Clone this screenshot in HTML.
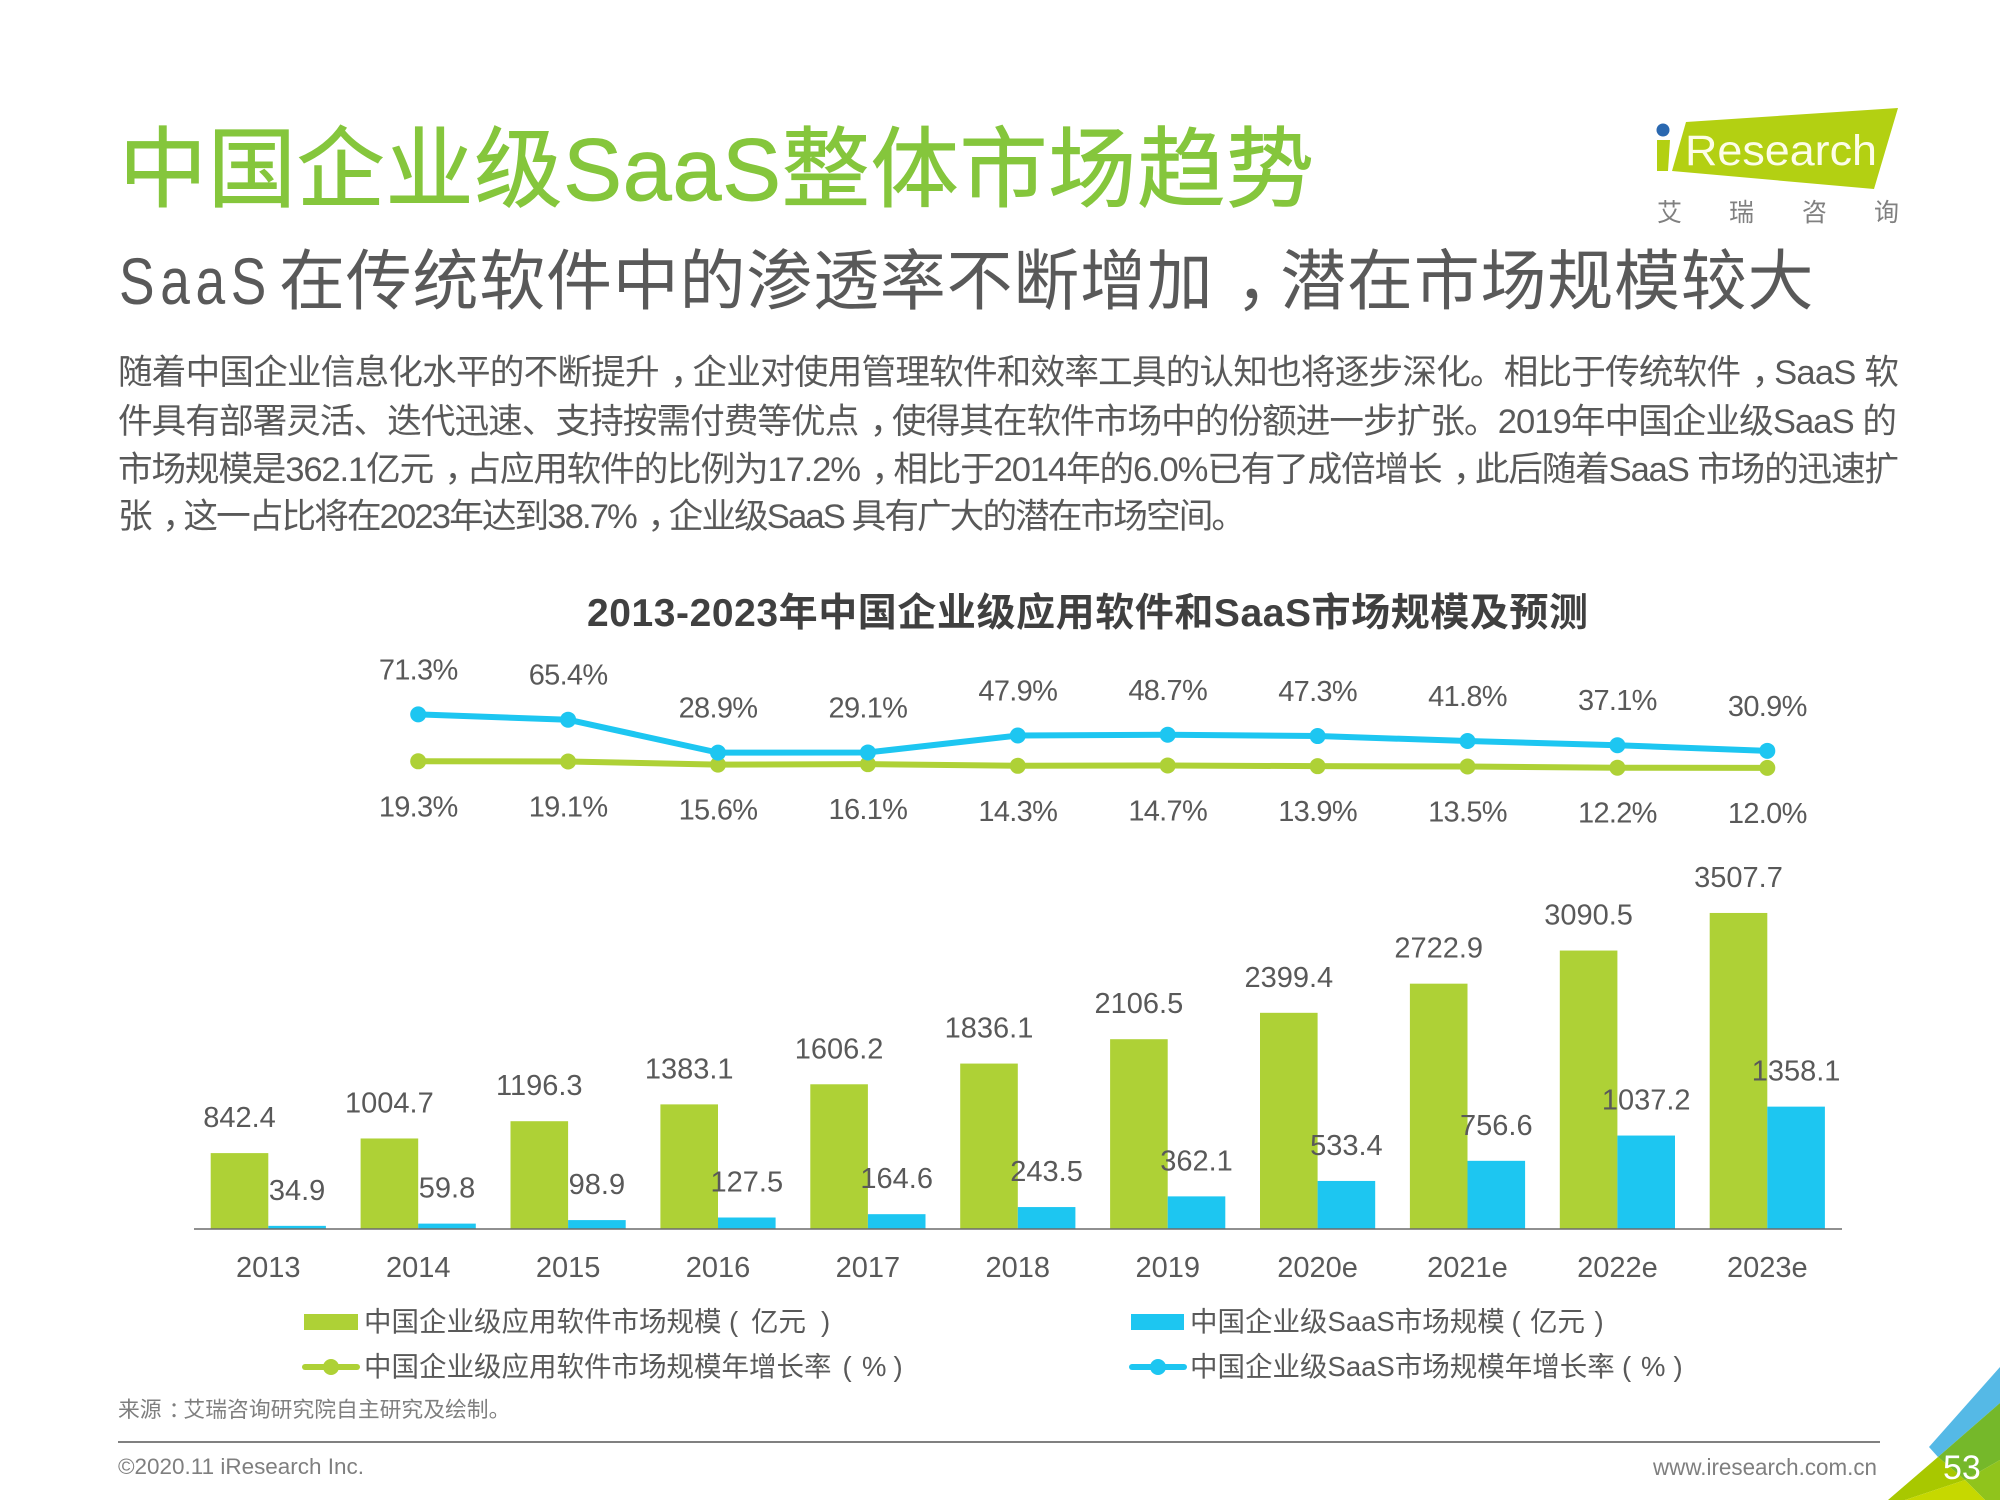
<!DOCTYPE html>
<html lang="zh-CN">
<head>
<meta charset="utf-8">
<title>中国企业级SaaS整体市场趋势</title>
<style>
html,body{margin:0;padding:0;background:#fff;}
body{width:2000px;height:1500px;overflow:hidden;}
svg{display:block;}
text{font-family:"Liberation Sans","Noto Sans CJK SC",sans-serif;white-space:pre;}
.body-line{font-size:34.6px;fill:#595959;}
.val{font-size:29px;fill:#595959;text-anchor:middle;}
.rate{letter-spacing:-0.7px;}
.legend{font-size:27.5px;fill:#595959;}
</style>
</head>
<body>
<svg id="page" xmlns="http://www.w3.org/2000/svg" width="2000" height="1500" viewBox="0 0 2000 1500">
  <rect x="0" y="0" width="2000" height="1500" fill="#ffffff"/>

  <text x="119" y="200" font-size="88" fill="#85c63c" stroke="#85c63c" stroke-width="0.9" textLength="1195" lengthAdjust="spacing">中国企业级SaaS整体市场趋势</text>
  <g>
    <text x="119" y="304" font-size="66" fill="#595959" letter-spacing="7" textLength="153" lengthAdjust="spacingAndGlyphs">SaaS</text>
    <text x="279" y="304" font-size="66" letter-spacing="0.75" fill="#595959">在传统软件中的渗透率不断增加<tspan dx="22">，</tspan><tspan dx="-22">潜</tspan>在市场规模较大</text>
  </g>

  <g>
    <text class="body-line" x="118" y="384" textLength="1781" lengthAdjust="spacing">随着中国企业信息化水平的不断提升<tspan dx="11.5">，</tspan><tspan dx="-11.5">企</tspan>业对使用管理软件和效率工具的认知也将逐步深化。相比于传统软件<tspan dx="11.5">，</tspan><tspan dx="-11.5">S</tspan>aaS 软</text>
    <text class="body-line" x="118" y="433" textLength="1779" lengthAdjust="spacing">件具有部署灵活、迭代迅速、支持按需付费等优点<tspan dx="11.5">，</tspan><tspan dx="-11.5">使</tspan>得其在软件市场中的份额进一步扩张。2019年中国企业级SaaS 的</text>
    <text class="body-line" x="118" y="481" textLength="1781" lengthAdjust="spacing">市场规模是362.1亿元<tspan dx="11.5">，</tspan><tspan dx="-11.5">占</tspan>应用软件的比例为17.2%<tspan dx="11.5">，</tspan><tspan dx="-11.5">相</tspan>比于2014年的6.0%已有了成倍增长<tspan dx="11.5">，</tspan><tspan dx="-11.5">此</tspan>后随着SaaS 市场的迅速扩</text>
    <text class="body-line" x="118" y="528" textLength="1128" lengthAdjust="spacing">张<tspan dx="11.5">，</tspan><tspan dx="-11.5">这</tspan>一占比将在2023年达到38.7%<tspan dx="11.5">，</tspan><tspan dx="-11.5">企</tspan>业级SaaS 具有广大的潜在市场空间。</text>
  </g>

  <g>
    <polygon points="1686,122 1898,108 1874,189 1672,171" fill="#b3d012"/>
    <polygon points="1657,140 1670,140 1668,171 1657,171" fill="#b3d012"/>
    <circle cx="1663" cy="130" r="6.5" fill="#2a68b0"/>
    <text x="1685" y="165" font-size="43" fill="#fdfde8" textLength="192" lengthAdjust="spacingAndGlyphs">Research</text>
    <text x="1657" y="221" font-size="25" fill="#808080">艾</text>
    <text x="1729" y="221" font-size="25" fill="#808080">瑞</text>
    <text x="1802" y="221" font-size="25" fill="#808080">咨</text>
    <text x="1874" y="221" font-size="25" fill="#808080">询</text>
  </g>

  <text x="587" y="626" font-size="39" font-weight="700" fill="#404040" textLength="1001" lengthAdjust="spacing">2013-2023年中国企业级应用软件和SaaS市场规模及预测</text>

  <g id="chart"></g>

  <g>
    <g>
      <rect x="304" y="1314" width="54" height="16" fill="#aed136"/>
      <text class="legend" x="364" y="1331">中国企业级应用软件市场规模<tspan x="729">(</tspan><tspan x="751">亿元</tspan><tspan x="821">)</tspan></text>
    </g>
    <g>
      <rect x="1131" y="1314" width="53" height="16" fill="#1dc6f1"/>
      <text class="legend" x="1190" y="1331">中国企业级SaaS市场规模<tspan x="1511.5">(</tspan><tspan x="1530">亿元</tspan><tspan x="1594.5">)</tspan></text>
    </g>
    <g>
      <line x1="305" y1="1367" x2="357" y2="1367" stroke="#aed136" stroke-width="6" stroke-linecap="round"/>
      <circle cx="331" cy="1367" r="8" fill="#aed136"/>
      <text class="legend" x="364" y="1376">中国企业级应用软件市场规模年增长率<tspan x="842.5">(</tspan><tspan x="862">%</tspan><tspan x="893.5">)</tspan></text>
    </g>
    <g>
      <line x1="1132" y1="1367" x2="1184" y2="1367" stroke="#1dc6f1" stroke-width="6" stroke-linecap="round"/>
      <circle cx="1158" cy="1367" r="8" fill="#1dc6f1"/>
      <text class="legend" x="1190" y="1376">中国企业级SaaS市场规模年增长率<tspan x="1622">(</tspan><tspan x="1641">%</tspan><tspan x="1673.5">)</tspan></text>
    </g>
  </g>

  <text x="118" y="1417" font-size="21.8" fill="#7f7f7f">来源<tspan dx="7">：</tspan><tspan dx="-7">艾</tspan>瑞咨询研究院自主研究及绘制。</text>
  <line x1="118" y1="1442" x2="1880" y2="1442" stroke="#808080" stroke-width="2"/>
  <text x="118" y="1474" font-size="22" fill="#7f7f7f" textLength="246" lengthAdjust="spacingAndGlyphs">©2020.11 iResearch Inc.</text>
  <text x="1653" y="1475" font-size="23" fill="#7f7f7f" textLength="224" lengthAdjust="spacingAndGlyphs">www.iresearch.com.cn</text>

  <g>
    <polygon points="1929,1447 2000,1367 2000,1403 1938,1457" fill="#55b9e6"/>
    <polygon points="1938,1457 2000,1403 2000,1460 1965,1480" fill="#75b82a"/>
    <polygon points="1965,1480 2000,1460 2000,1500 1985,1500" fill="#90c41c"/>
    <polygon points="1888,1500 1938,1457 1965,1480 1920,1495 1905,1500" fill="#a8c800"/>
    <polygon points="1905,1500 1920,1495 1965,1480 1985,1500" fill="#c6d800"/>
    <text x="1943" y="1479" font-size="34" fill="#ffffff">53</text>
  </g>
</svg>

<script>
const categories = ['2013','2014','2015','2016','2017','2018','2019','2020e','2021e','2022e','2023e'];
const softwareSize = [842.4,1004.7,1196.3,1383.1,1606.2,1836.1,2106.5,2399.4,2722.9,3090.5,3507.7];
const saasSize = [34.9,59.8,98.9,127.5,164.6,243.5,362.1,533.4,756.6,1037.2,1358.1];
const growthCategories = ['2014','2015','2016','2017','2018','2019','2020e','2021e','2022e','2023e'];
const saasGrowth = [71.3,65.4,28.9,29.1,47.9,48.7,47.3,41.8,37.1,30.9];
const softwareGrowth = [19.3,19.1,15.6,16.1,14.3,14.7,13.9,13.5,12.2,12.0];

const NS = 'http://www.w3.org/2000/svg';
const chart = document.getElementById('chart');
const GREEN = '#aed136';
const BLUE = '#1dc6f1';

function xBand(category) {
  return 268.3 + 149.9 * categories.indexOf(category);
}
function yBar(value) {
  return 1229 - value * 0.0901;
}
function yRate(value) {
  return 778.7 - value * 0.902;
}
function make(tag, parent) {
  const el = document.createElementNS(NS, tag);
  parent.appendChild(el);
  return el;
}

const barsGroup = make('g', chart);



const BAR_W = 57.6;
categories.forEach(function (cat, i) {
  const cx = xBand(cat);

  const g = make('rect', barsGroup);
  
  
  g.setAttribute('x', cx - BAR_W);
  g.setAttribute('y', yBar(softwareSize[i]));
  g.setAttribute('width', BAR_W);
  g.setAttribute('height', 1229 - yBar(softwareSize[i]));
  g.setAttribute('fill', GREEN);

  const b = make('rect', barsGroup);
  
  
  b.setAttribute('x', cx);
  b.setAttribute('y', yBar(saasSize[i]));
  b.setAttribute('width', BAR_W);
  b.setAttribute('height', 1229 - yBar(saasSize[i]));
  b.setAttribute('fill', BLUE);

  const gl = make('text', barsGroup);
  
  
  gl.setAttribute('class', 'val');
  gl.setAttribute('x', cx - BAR_W / 2);
  gl.setAttribute('y', yBar(softwareSize[i]) - 26);
  gl.textContent = softwareSize[i].toFixed(1);

  const bl = make('text', barsGroup);
  
  
  bl.setAttribute('class', 'val');
  bl.setAttribute('x', cx + BAR_W / 2);
  bl.setAttribute('y', yBar(saasSize[i]) - 26);
  bl.textContent = saasSize[i].toFixed(1);

  const xl = make('text', barsGroup);
  
  
  xl.setAttribute('class', 'val');
  xl.setAttribute('x', cx);
  xl.setAttribute('y', 1277);
  xl.textContent = cat;
});

const axisLine = make('line', chart);


axisLine.setAttribute('x1', 194);
axisLine.setAttribute('x2', 1842);
axisLine.setAttribute('y1', 1229);
axisLine.setAttribute('y2', 1229);
axisLine.setAttribute('stroke', '#6b6b6b');
axisLine.setAttribute('stroke-width', 1.5);

function drawLine(values, color, key, labelDy) {
  const group = make('g', chart);
  
  

  const pts = values.map(function (v, i) {
    return xBand(growthCategories[i]) + ',' + yRate(v);
  }).join(' ');
  const line = make('polyline', group);
  
  
  line.setAttribute('points', pts);
  line.setAttribute('fill', 'none');
  line.setAttribute('stroke', color);
  line.setAttribute('stroke-width', 6);
  line.setAttribute('stroke-linejoin', 'round');
  line.setAttribute('stroke-linecap', 'round');

  values.forEach(function (v, i) {
    const cat = growthCategories[i];
    const dot = make('circle', group);
    
    
    dot.setAttribute('cx', xBand(cat));
    dot.setAttribute('cy', yRate(v));
    dot.setAttribute('r', 8);
    dot.setAttribute('fill', color);

    const lab = make('text', group);
    
    
    lab.setAttribute('class', 'val rate');
    lab.setAttribute('x', xBand(cat));
    lab.setAttribute('y', yRate(v) + labelDy);
    lab.textContent = v.toFixed(1) + '%';
  });
}

drawLine(softwareGrowth, GREEN, 'software-growth', 55);
drawLine(saasGrowth, BLUE, 'saas-growth', -35);
</script>
</body>
</html>
